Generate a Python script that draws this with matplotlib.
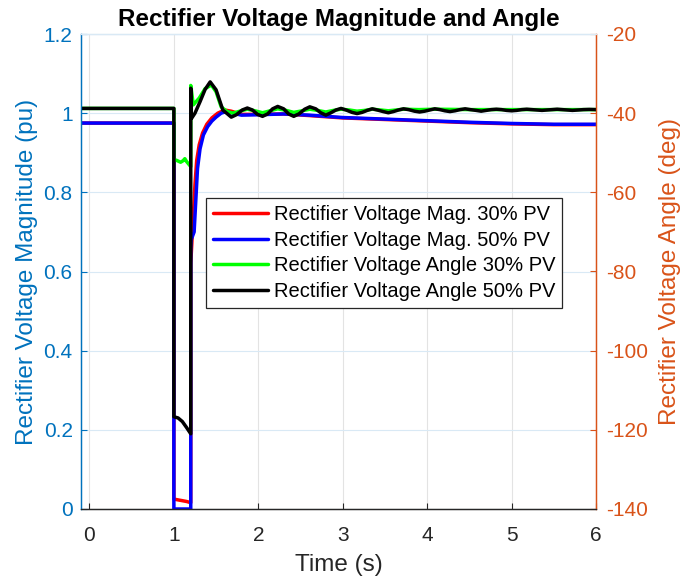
import matplotlib
matplotlib.use("Agg")
import matplotlib.pyplot as plt
from matplotlib.ticker import FuncFormatter

plt.rcParams['font.family'] = ['Liberation Sans', 'DejaVu Sans']
plt.rcParams['axes.unicode_minus'] = False

# ---- data ----------------------------------------------------------------
# Rectifier voltage magnitude, 50% PV (pu)
t_mag50 = [-0.1, 1.0, 1.0, 1.2, 1.2, 1.205, 1.24, 1.26, 1.28, 1.31, 1.35, 1.40,
           1.45, 1.50, 1.56, 1.62, 1.70, 1.80, 2.0, 2.3, 2.6, 3.0, 3.5, 4.0,
           4.5, 5.0, 5.5, 6.0]
v_mag50 = [0.975, 0.975, 0.0, 0.0, 0.66, 0.68, 0.70, 0.78, 0.86, 0.91, 0.945, 0.966,
           0.980, 0.990, 1.000, 1.004, 1.000, 0.995, 0.996, 0.998, 0.995, 0.989,
           0.985, 0.981, 0.977, 0.974, 0.972, 0.972]

# Rectifier voltage magnitude, 30% PV (pu)
t_mag30 = [-0.1, 1.0, 1.0, 1.05, 1.1, 1.15, 1.2, 1.2, 1.23, 1.25, 1.27, 1.30, 1.34,
           1.39, 1.45, 1.52, 1.60, 1.68, 1.80, 2.0, 2.3, 2.6, 3.0, 3.5, 4.0,
           4.5, 5.0, 5.5, 6.0]
v_mag30 = [0.975, 0.975, 0.025, 0.023, 0.021, 0.019, 0.016, 0.62, 0.74, 0.82, 0.88,
           0.92, 0.95, 0.972, 0.988, 1.000, 1.008, 1.005, 0.997, 0.997, 0.998,
           0.994, 0.988, 0.984, 0.980, 0.976, 0.973, 0.971, 0.971]

# Rectifier voltage angle, 50% PV (deg)
t_ang50 = [-0.1, 1.0, 1.0, 1.05, 1.1, 1.15, 1.2, 1.2, 1.205, 1.21, 1.25, 1.31,
           1.37, 1.43, 1.50, 1.58, 1.68,
           1.74, 1.81, 1.87, 1.93, 1.99, 2.05, 2.11, 2.17, 2.23, 2.30, 2.36, 2.42,
           2.48, 2.55, 2.61, 2.68, 2.74, 2.80, 2.86, 2.92, 2.98, 3.04, 3.11, 3.17,
           3.23, 3.29, 3.35, 3.41, 3.48, 3.54, 3.60, 3.66, 3.72, 3.78, 3.85, 3.91,
           3.97, 4.03, 4.09, 4.15, 4.21, 4.27, 4.33, 4.39, 4.45, 4.51, 4.58, 4.64,
           4.70, 4.76, 4.82, 4.88, 4.94, 5.00, 5.06, 5.12, 5.18, 5.24, 5.30, 5.36,
           5.42, 5.48, 5.54, 5.60, 5.66, 5.72, 5.79, 5.85, 5.92, 6.0]
v_ang50 = [-38.8, -38.8, -116.7, -117.0, -117.9, -119.4, -121.0, -33.7, -41.3,
           -41.3, -40.0, -37.1, -34.0, -32.1, -34.1, -39.2, -41.0,
           -40.4, -39.2, -38.7, -39.2, -40.3, -40.8, -40.2, -38.9, -38.3, -38.9,
           -40.2, -40.8, -40.2, -39.0, -38.4, -38.9, -39.9, -40.5, -39.9, -39.2,
           -38.8, -39.2, -39.8, -40.1, -39.8, -39.3, -38.9, -39.2, -39.6, -39.9,
           -39.6, -39.2, -38.9, -39.1, -39.5, -39.7, -39.5, -39.2, -38.9, -39.1,
           -39.4, -39.6, -39.4, -39.1, -38.9, -39.1, -39.3, -39.5, -39.3, -39.1,
           -39.0, -39.1, -39.3, -39.4, -39.3, -39.1, -39.0, -39.1, -39.2, -39.3,
           -39.2, -39.1, -39.0, -39.1, -39.2, -39.3, -39.2, -39.1, -39.05, -39.1]

# Rectifier voltage angle, 30% PV (deg)
t_ang30 = [-0.1, 1.0, 1.0, 1.03, 1.08, 1.11, 1.13, 1.15, 1.2, 1.2, 1.23, 1.30,
           1.37, 1.445, 1.50, 1.56, 1.63, 1.70,
           1.78, 1.87, 1.96, 2.05, 2.14, 2.23, 2.33, 2.42, 2.52, 2.61, 2.70, 2.80,
           2.89, 2.98, 3.08, 3.17, 3.26, 3.35, 3.45, 3.54, 3.63, 3.72, 3.90, 4.10,
           4.50, 5.00, 5.50, 6.0]
v_ang30 = [-38.8, -38.8, -51.8, -51.9, -52.4, -52.0, -51.5, -52.2, -53.5, -33.0,
           -37.9, -36.2, -33.8, -32.9, -34.6, -38.4, -39.6, -40.0,
           -39.5, -39.0, -39.4, -39.9, -39.4, -38.9, -39.3, -39.8, -39.4, -39.0,
           -39.3, -39.7, -39.3, -39.0, -39.2, -39.5, -39.3, -39.0, -39.2, -39.4,
           -39.2, -39.0, -39.1, -39.0, -39.1, -39.1, -39.1, -39.1]

labels = ["Rectifier Voltage Mag. 30% PV",
          "Rectifier Voltage Mag. 50% PV",
          "Rectifier Voltage Angle 30% PV",
          "Rectifier Voltage Angle 50% PV"]

left_ticks = [0, 0.2, 0.4, 0.6, 0.8, 1.0, 1.2]
right_ticks = [-140, -120, -100, -80, -60, -40, -20]
x_ticks = [0, 1, 2, 3, 4, 5, 6]

# ---- styling -------------------------------------------------------------
C_LEFT = "#0072BD"
C_RIGHT = "#D95319"
C_AX = "#262626"
LW = 2.5
TICK_FS = 15
LABEL_FS = 17.5

fig = plt.figure(figsize=(6.88, 5.86), dpi=100)
ax = fig.add_axes([81 / 688, 1 - 509 / 586, 515 / 688, 475 / 586])
ax2 = ax.twinx()

line_kw = dict(lw=LW, solid_joinstyle="round", solid_capstyle="round")
l1, = ax.plot(t_mag30, v_mag30, color="#FF0000", label=labels[0], **line_kw)
l2, = ax.plot(t_mag50, v_mag50, color="#0000FF", label=labels[1], **line_kw)
l3, = ax2.plot(t_ang30, v_ang30, color="#00FF00", label=labels[2], **line_kw)
l4, = ax2.plot(t_ang50, v_ang50, color="#000000", label=labels[3], **line_kw)

ax.set_xlim(-0.1, 6)
ax.set_ylim(0, 1.2)
ax2.set_ylim(-140, -20)

ax.set_xticks(x_ticks)
ax.set_yticks(left_ticks)
ax2.set_yticks(right_ticks)
ax.yaxis.set_major_formatter(FuncFormatter(lambda v, p: f"{v:g}"))

# grid: vertical in grey, horizontal tinted like the left axis
ax.grid(False)
for xv in x_ticks:
    ax.axvline(xv, color="#e3e3e3", lw=0.8, zorder=0)
for yv in left_ticks:
    ax.axhline(yv, color="#d9e9f5", lw=0.8, zorder=0)

ax.tick_params(axis="x", direction="in", colors=C_AX, labelsize=TICK_FS,
               length=4, width=0.8, pad=12, top=False)
ax.tick_params(axis="y", direction="in", colors=C_LEFT, labelsize=TICK_FS,
               length=4, width=0.8, pad=6)
ax2.tick_params(axis="y", direction="in", colors=C_RIGHT, labelsize=TICK_FS,
                length=4, width=0.8, pad=7)

for a in (ax, ax2):
    a.spines["left"].set_color(C_LEFT)
    a.spines["right"].set_color(C_RIGHT)
    a.spines["bottom"].set_color(C_AX)
    a.spines["top"].set_color("#d9e9f5")
    for s in a.spines.values():
        s.set_linewidth(0.9)

ax.set_xlabel("Time (s)", fontsize=LABEL_FS, color=C_AX, labelpad=7)
ax.set_ylabel("Rectifier Voltage Magnitude (pu)", fontsize=LABEL_FS,
              color=C_LEFT, labelpad=4)
ax2.set_ylabel("Rectifier Voltage Angle (deg)", fontsize=LABEL_FS,
               color=C_RIGHT, labelpad=8)
ax.set_title("Rectifier Voltage Magnitude and Angle", fontsize=17.5,
             fontweight="bold", color="black", pad=6)

leg = ax2.legend(handles=[l1, l2, l3, l4], loc="upper left",
                 bbox_to_anchor=(0.243, 0.655), fontsize=14.5, frameon=True,
                 fancybox=False, edgecolor="#262626", framealpha=1.0,
                 handlelength=2.7, handletextpad=0.3, labelspacing=0.33,
                 borderpad=0.35, borderaxespad=0.0)
leg.get_frame().set_linewidth(0.9)

fig.savefig("out.png", dpi=100)
